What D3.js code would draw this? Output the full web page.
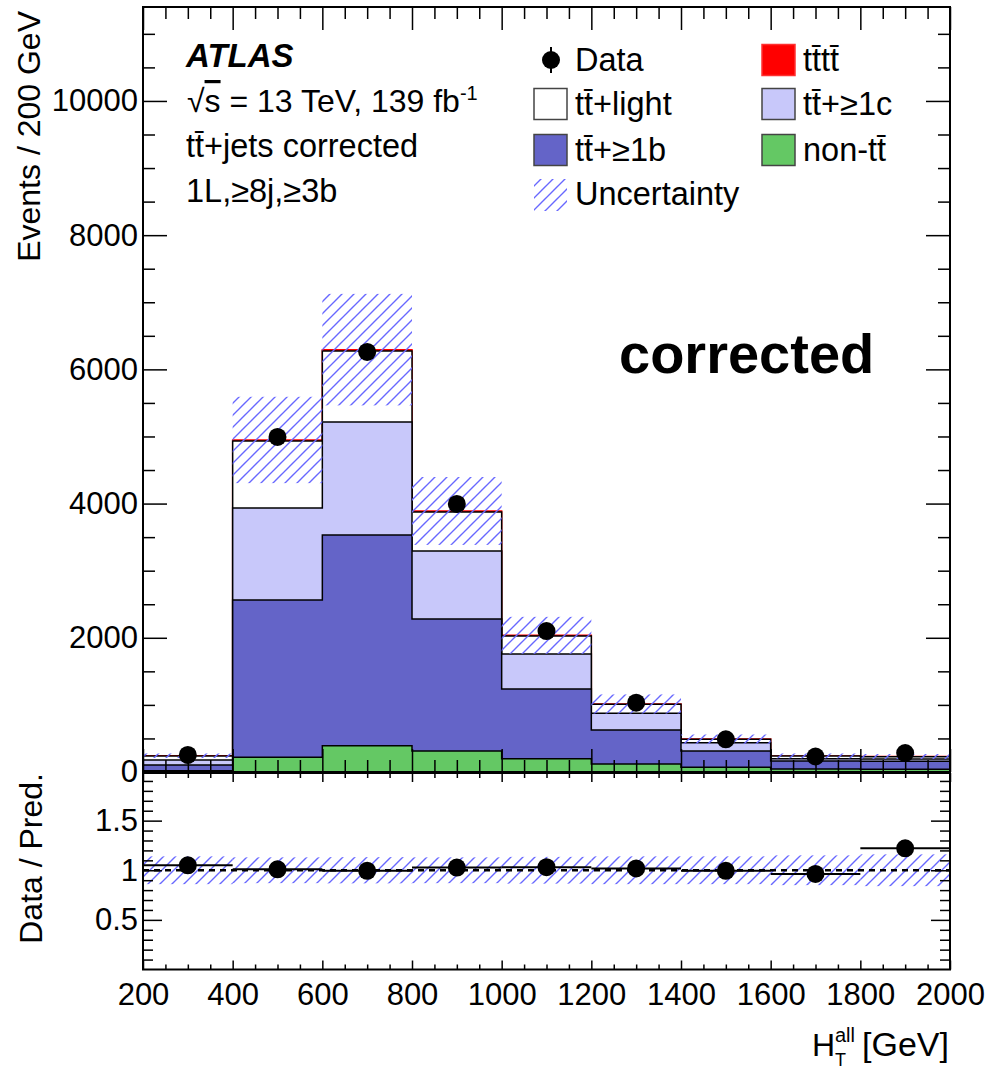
<!DOCTYPE html>
<html><head><meta charset="utf-8">
<script src="https://cdn.jsdelivr.net/npm/d3@7"></script>
<style>
body{margin:0;background:#fff}
text{font-family:"Liberation Sans",Arial,Helvetica,sans-serif;fill:#000}
</style>
</head><body>
<svg id="c" width="1001" height="1072" xmlns="http://www.w3.org/2000/svg"></svg>
<script>
// ---------------- data ----------------
const binEdges   = [200, 400, 600, 800, 1000, 1200, 1400, 1600, 1800, 2000];
const nonTT      = [20, 219, 392, 313, 198, 119, 70, 45, 40];
const ttB        = [85, 2344, 3140, 1967, 1039, 507, 243, 119, 120];
const ttC        = [75, 1371, 1684, 1014, 521, 249, 124, 34, 35];
const ttLight    = [59, 999, 1058, 581, 269, 134, 50, 40, 34];
const tttt       = [3, 15, 20, 15, 10, 5, 3, 2, 2];
const dataEvents = [254, 4993, 6259, 3994, 2101, 1033, 487, 231, 282];
const relUnc     = [0.14, 0.13, 0.132, 0.13, 0.135, 0.14, 0.14, 0.15, 0.16];
const yTicksMain  = [0, 2000, 4000, 6000, 8000, 10000];
const yTicksRatio = [0.5, 1, 1.5];
const xTickLabels = [200, 400, 600, 800, 1000, 1200, 1400, 1600, 1800, 2000];

// ---------------- setup ----------------
const svg = d3.select("#c");
svg.append("rect").attr("width",1001).attr("height",1072).attr("fill","#fff");
const L = 143, R = 950, T = 7, B = 772, RT = 773, RB = 969.5;
const x  = d3.scaleLinear().domain([200, 2000]).range([L, R]);
const y  = d3.scaleLinear().domain([0, 11400]).range([B, T]);
const yr = d3.scaleLinear().domain([0, 1.98]).range([RB, RT]);
const nb = binEdges.length - 1;
const lo = binEdges.slice(0, nb), hi = binEdges.slice(1);

const defs = svg.append("defs");
const pat = defs.append("pattern").attr("id","hatch").attr("patternUnits","userSpaceOnUse")
  .attr("width",12).attr("height",12);
pat.append("path").attr("d","M-3,3 L3,-3 M0,12 L12,0 M9,15 L15,9")
  .attr("stroke","#6868ff").attr("stroke-width",1.4).attr("fill","none");
defs.append("clipPath").attr("id","clipMain").append("rect")
  .attr("x",L).attr("y",T).attr("width",R-L).attr("height",B-T);
defs.append("clipPath").attr("id","clipRatio").append("rect")
  .attr("x",L).attr("y",RT).attr("width",R-L).attr("height",RB-RT);

// ---------------- stack ----------------
const layers = [
  {vals: nonTT,   fill:"#64c864", stroke:"#000"},
  {vals: ttB,     fill:"#6464c8", stroke:"#000"},
  {vals: ttC,     fill:"#c8c8fa", stroke:"#000"},
  {vals: ttLight, fill:"#ffffff", stroke:"#000"},
  {vals: tttt,    fill:"#ff0000", stroke:"#ff0000"}
];
let cum = new Array(nb).fill(0);
layers.forEach(l => { cum = cum.map((c,i) => c + l.vals[i]); l.cum = cum.slice(); });
const total = layers[layers.length-1].cum;

const area = d3.area().curve(d3.curveStepAfter)
  .x(d => x(d.x)).y0(y(0)).y1(d => y(d.v));
const gMain = svg.append("g").attr("clip-path","url(#clipMain)");
layers.slice().reverse().forEach(l => {
  const pts = binEdges.map((e,i) => ({x:e, v:l.cum[Math.min(i, nb-1)]}));
  gMain.append("path").attr("d", area(pts))
    .attr("fill", l.fill).attr("stroke", l.stroke).attr("stroke-width",1.5);
});
// uncertainty band
gMain.selectAll("rect.unc").data(d3.range(nb)).join("rect").attr("class","unc")
  .attr("x", i => x(lo[i])).attr("width", i => x(hi[i]) - x(lo[i]))
  .attr("y", i => y(total[i]*(1+relUnc[i])))
  .attr("height", i => y(total[i]*(1-relUnc[i])) - y(total[i]*(1+relUnc[i])))
  .attr("fill","url(#hatch)");
// data
const ctr = i => (lo[i] + hi[i]) / 2;
gMain.selectAll("line.err").data(d3.range(nb)).join("line")
  .attr("x1", i => x(ctr(i))).attr("x2", i => x(ctr(i)))
  .attr("y1", i => y(dataEvents[i] + Math.sqrt(dataEvents[i])))
  .attr("y2", i => y(dataEvents[i] - Math.sqrt(dataEvents[i])))
  .attr("stroke","#000").attr("stroke-width",2);
gMain.selectAll("circle.d").data(d3.range(nb)).join("circle")
  .attr("cx", i => x(ctr(i))).attr("cy", i => y(dataEvents[i])).attr("r",9).attr("fill","#000");

// ---------------- ratio ----------------
const gR = svg.append("g").attr("clip-path","url(#clipRatio)");
gR.selectAll("rect.unc").data(d3.range(nb)).join("rect")
  .attr("x", i => x(lo[i])).attr("width", i => x(hi[i]) - x(lo[i]))
  .attr("y", i => yr(1+relUnc[i])).attr("height", i => yr(1-relUnc[i]) - yr(1+relUnc[i]))
  .attr("fill","url(#hatch)");
gR.append("line").attr("x1",x(200)).attr("x2",x(2000)).attr("y1",yr(1)).attr("y2",yr(1))
  .attr("stroke","#000").attr("stroke-width",2.5).attr("stroke-dasharray","6,5");
const ratio = dataEvents.map((d,i) => d / total[i]);
gR.selectAll("line.xe").data(d3.range(nb)).join("line")
  .attr("x1", i => x(lo[i])).attr("x2", i => x(hi[i]))
  .attr("y1", i => yr(ratio[i])).attr("y2", i => yr(ratio[i]))
  .attr("stroke","#000").attr("stroke-width",2);
gR.selectAll("line.ye").data(d3.range(nb)).join("line")
  .attr("x1", i => x(ctr(i))).attr("x2", i => x(ctr(i)))
  .attr("y1", i => yr(ratio[i] + Math.sqrt(dataEvents[i])/total[i]))
  .attr("y2", i => yr(ratio[i] - Math.sqrt(dataEvents[i])/total[i]))
  .attr("stroke","#000").attr("stroke-width",2);
gR.selectAll("circle").data(d3.range(nb)).join("circle")
  .attr("cx", i => x(ctr(i))).attr("cy", i => yr(ratio[i])).attr("r",9).attr("fill","#000");

// ---------------- axes ----------------
function styleAxis(g){ g.select(".domain").remove(); g.selectAll(".tick line").attr("stroke","#000").attr("stroke-width",1.5); }
const minorMainY = d3.range(0, 11400, 500).filter(v => v % 2000 !== 0);
const minorX = d3.range(200, 2001, 50).filter(v => v % 200 !== 0);
const minorRY = d3.range(1, 20).map(v => v/10).filter(v => Math.abs(v*2 - Math.round(v*2)) > 1e-6);

// main left
svg.append("g").attr("transform",`translate(${L},0)`)
  .call(d3.axisLeft(y).tickValues(yTicksMain).tickSize(-24).tickPadding(5).tickFormat(d3.format("d")))
  .call(styleAxis).call(g => g.selectAll("text").attr("font-size",31).attr("font-family",null));
svg.append("g").attr("transform",`translate(${L},0)`)
  .call(d3.axisLeft(y).tickValues(minorMainY).tickSize(-12).tickFormat("")).call(styleAxis);
// main right
svg.append("g").attr("transform",`translate(${R},0)`)
  .call(d3.axisRight(y).tickValues(yTicksMain).tickSize(-24).tickFormat("")).call(styleAxis);
svg.append("g").attr("transform",`translate(${R},0)`)
  .call(d3.axisRight(y).tickValues(minorMainY).tickSize(-12).tickFormat("")).call(styleAxis);
// main top / bottom
[[T, d3.axisTop],[B, d3.axisBottom]].forEach(([yy, ax]) => {
  svg.append("g").attr("transform",`translate(0,${yy})`)
    .call(ax(x).tickValues(xTickLabels).tickSize(-23).tickFormat("")).call(styleAxis);
  svg.append("g").attr("transform",`translate(0,${yy})`)
    .call(ax(x).tickValues(minorX).tickSize(-12).tickFormat("")).call(styleAxis);
});
// ratio left/right
svg.append("g").attr("transform",`translate(${L},0)`)
  .call(d3.axisLeft(yr).tickValues(yTicksRatio).tickSize(-19).tickPadding(5).tickFormat(d => String(d)))
  .call(styleAxis).call(g => g.selectAll("text").attr("font-size",31).attr("font-family",null));
svg.append("g").attr("transform",`translate(${L},0)`)
  .call(d3.axisLeft(yr).tickValues(minorRY).tickSize(-10).tickFormat("")).call(styleAxis);
svg.append("g").attr("transform",`translate(${R},0)`)
  .call(d3.axisRight(yr).tickValues(yTicksRatio).tickSize(-19).tickFormat("")).call(styleAxis);
svg.append("g").attr("transform",`translate(${R},0)`)
  .call(d3.axisRight(yr).tickValues(minorRY).tickSize(-10).tickFormat("")).call(styleAxis);
// ratio bottom / top
svg.append("g").attr("transform",`translate(0,${RB})`)
  .call(d3.axisBottom(x).tickValues(xTickLabels).tickSize(-9).tickPadding(13).tickFormat(d3.format("d")))
  .call(styleAxis).call(g => g.selectAll("text").attr("font-size",31).attr("font-family",null));
svg.append("g").attr("transform",`translate(0,${RB})`)
  .call(d3.axisBottom(x).tickValues(minorX).tickSize(-5).tickFormat("")).call(styleAxis);
svg.append("g").attr("transform",`translate(0,${RT})`)
  .call(d3.axisTop(x).tickValues(xTickLabels).tickSize(-9).tickFormat("")).call(styleAxis);
svg.append("g").attr("transform",`translate(0,${RT})`)
  .call(d3.axisTop(x).tickValues(minorX).tickSize(-5).tickFormat("")).call(styleAxis);

// frames
svg.append("rect").attr("x",L).attr("y",T).attr("width",R-L).attr("height",B-T)
  .attr("fill","none").attr("stroke","#000").attr("stroke-width",2);
svg.append("rect").attr("x",L).attr("y",RT).attr("width",R-L).attr("height",RB-RT)
  .attr("fill","none").attr("stroke","#000").attr("stroke-width",2);

// ---------------- titles ----------------
svg.append("text").attr("transform","translate(40,11) rotate(-90)").attr("text-anchor","end")
  .attr("font-size",32).text("Events / 200 GeV");
svg.append("text").attr("transform",`translate(42,${RT}) rotate(-90)`).attr("text-anchor","end")
  .attr("font-size",32).text("Data / Pred.");
const xt = svg.append("g").attr("font-size",32);
xt.append("text").attr("x",812).attr("y",1056).text("H");
xt.append("text").attr("x",835).attr("y",1042).attr("font-size",20).text("all");
xt.append("text").attr("x",835).attr("y",1066).attr("font-size",18).text("T");
xt.append("text").attr("x",949).attr("y",1056).attr("text-anchor","end").attr("font-size",34).text("[GeV]");

// ---------------- labels ----------------
svg.append("text").attr("x",186).attr("y",67).attr("font-size",33)
  .attr("font-weight","bold").attr("font-style","italic").text("ATLAS");
const s2 = svg.append("text").attr("x",187).attr("y",112).attr("font-size",32);
s2.append("tspan").text("\u221A");
s2.append("tspan").style("text-decoration","overline").text("s");
s2.append("tspan").text(" = 13 TeV, 139 fb");
s2.append("tspan").attr("dy",-12).attr("font-size",20).text("-1");
svg.append("text").attr("x",186).attr("y",157).attr("font-size",32.5).text("tt\u0304+jets corrected");
svg.append("text").attr("x",186).attr("y",202).attr("font-size",32.5).text("1L,\u22658j,\u22653b");
svg.append("text").attr("x",619).attr("y",373).attr("font-size",56).attr("font-weight","bold").text("corrected");

// ---------------- legend ----------------
const leg = svg.append("g");
leg.append("line").attr("x1",551).attr("x2",551).attr("y1",47).attr("y2",73).attr("stroke","#000").attr("stroke-width",2);
leg.append("circle").attr("cx",551).attr("cy",60).attr("r",9).attr("fill","#000");
leg.append("text").attr("x",575).attr("y",71).attr("font-size",32.5).text("Data");
const boxes = [
  {x:534, cy:104, fill:"#ffffff", stroke:"#444", label:"tt\u0304+light"},
  {x:534, cy:150, fill:"#6464c8", stroke:"#444", label:"tt\u0304+\u22651b"},
  {x:762, cy:60,  fill:"#ff0000", stroke:"#ff3030", label:"tt\u0304tt\u0304"},
  {x:762, cy:104, fill:"#c8c8fa", stroke:"#444", label:"tt\u0304+\u22651c"},
  {x:762, cy:150, fill:"#64c864", stroke:"#444", label:"non-tt\u0304"}
];
boxes.forEach(b => {
  leg.append("rect").attr("x",b.x).attr("y",b.cy-15.5).attr("width",33).attr("height",31)
    .attr("fill",b.fill).attr("stroke",b.stroke).attr("stroke-width",1.5);
  leg.append("text").attr("x",b.x+41).attr("y",b.cy+11).attr("font-size",32.5).text(b.label);
});
leg.append("rect").attr("x",534).attr("y",179).attr("width",33).attr("height",32).attr("fill","url(#hatch)");
leg.append("text").attr("x",575).attr("y",205).attr("font-size",32.5).text("Uncertainty");
</script>
</body></html>
